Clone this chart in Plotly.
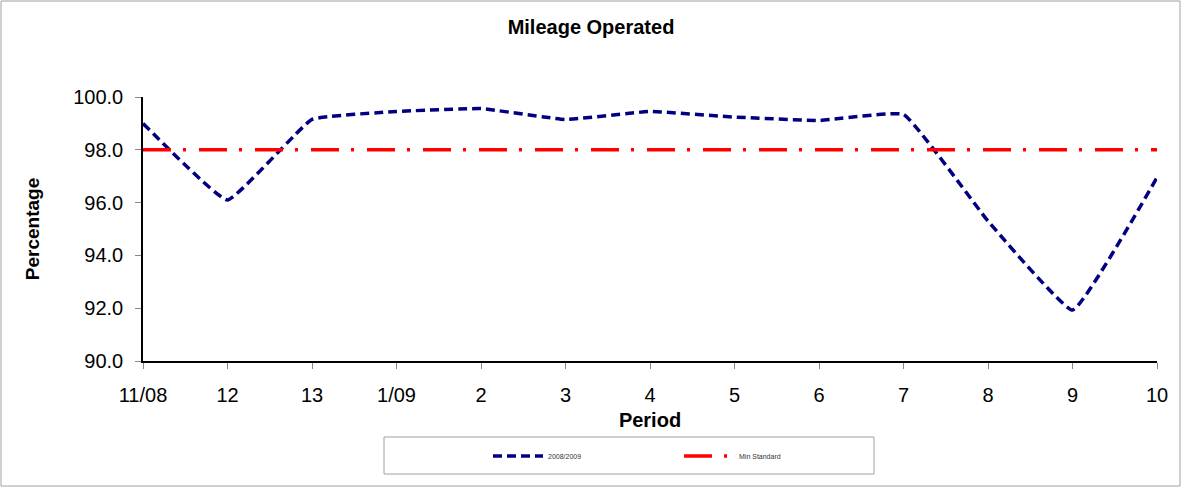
"""
Mileage Operated chart: monthly percentage vs. the minimum standard.
"""

import plotly.graph_objects as go

# ── Data ────────────────────────────────────────────────────────
periods = ["11/08", "12", "13", "1/09", "2", "3", "4", "5", "6", "7", "8", "9", "10"]
mileage_pct = [99.0, 96.1, 99.15, 99.45, 99.56, 99.15, 99.45, 99.24, 99.11, 99.34, 95.3, 91.93, 96.95]
min_standard = [98.0] * len(periods)

y_ticks = [90, 92, 94, 96, 98, 100]

# ── Layout constants (pixels) ───────────────────────────────────
W, H = 1182, 488
M_L, M_R, M_T, M_B = 143, 25, 97, 127
PW, PH = W - M_L - M_R, H - M_T - M_B

FONT = "Liberation Sans, Arial, sans-serif"


def px_x(p):
    return (p - M_L) / PW


def px_y(p):
    return (H - M_B - p) / PH


x_idx = list(range(len(periods)))

fig = go.Figure()
fig.add_trace(go.Scatter(
    x=x_idx, y=mileage_pct, mode="lines", name="2008/2009",
    line=dict(color="#000080", width=3.5, dash="9px,5px",
              shape="spline", smoothing=0.3),
))
fig.add_trace(go.Scatter(
    x=x_idx, y=min_standard, mode="lines", name="Min Standard",
    line=dict(color="#FF0000", width=3.5, dash="28px,12px,3px,13px"),
))

# outer chart border and legend frame
fig.add_shape(type="rect", xref="paper", yref="paper",
              x0=px_x(1), x1=px_x(W - 2), y0=px_y(H - 2), y1=px_y(1),
              line=dict(color="#a0a0a0", width=1), layer="below")
fig.add_shape(type="rect", xref="paper", yref="paper",
              x0=px_x(384), x1=px_x(874), y0=px_y(474), y1=px_y(437),
              line=dict(color="#a0a0a0", width=1), layer="below")

fig.update_layout(
    width=W, height=H,
    margin=dict(l=M_L, r=M_R, t=M_T, b=M_B),
    paper_bgcolor="white", plot_bgcolor="white",
    font=dict(family=FONT, color="black"),
    title=dict(text="<b>Mileage Operated</b>", x=0.5, xref="container",
               xanchor="center", y=1 - 27 / H, yanchor="middle",
               font=dict(size=20, family=FONT)),
    showlegend=True,
    legend=dict(orientation="h", x=px_x(488), y=px_y(456),
                xanchor="left", yanchor="middle",
                entrywidth=126, entrywidthmode="pixels", itemwidth=50,
                font=dict(size=7, family=FONT, color="#333"),
                bgcolor="rgba(0,0,0,0)", borderwidth=0),
)

fig.update_xaxes(
    range=[0, len(periods) - 1],
    tickvals=x_idx, ticktext=periods,
    ticks="outside", ticklen=6, tickcolor="#888",
    showline=True, linecolor="black", linewidth=1.5,
    showgrid=False, zeroline=False,
    tickfont=dict(size=20, family=FONT), ticklabelstandoff=9,
    title=dict(text="<b>Period</b>", font=dict(size=20, family=FONT), standoff=8),
)
fig.update_yaxes(
    range=[90, 100],
    tickvals=y_ticks, tickformat=".1f",
    ticks="outside", ticklen=6, tickcolor="#888",
    showline=True, linecolor="black", linewidth=1.5,
    showgrid=False, zeroline=False,
    tickfont=dict(size=20, family=FONT), ticklabelstandoff=8,
    title=dict(text="<b>Percentage</b>", font=dict(size=19, family=FONT), standoff=29),
)

fig.write_html("out.html", config={"displayModeBar": False},
               post_script="document.body.style.margin='0px';")
